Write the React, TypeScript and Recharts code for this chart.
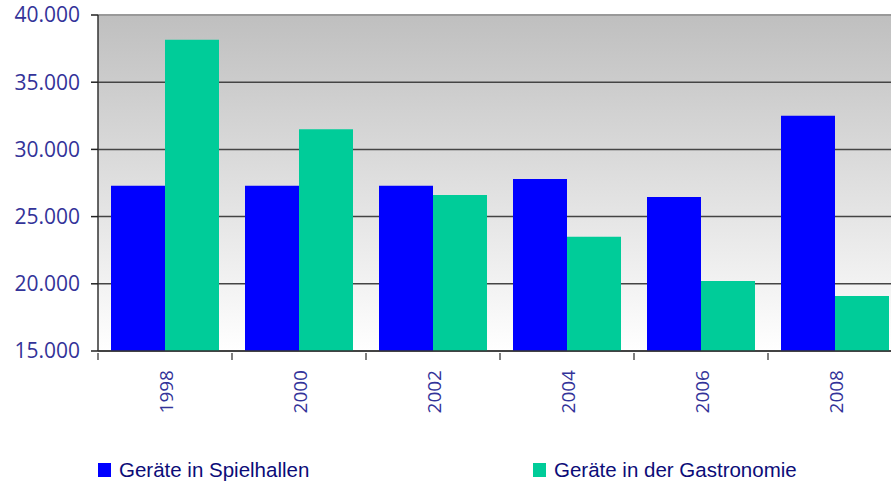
import { BarChart, Bar, XAxis, YAxis, CartesianGrid, Legend, ReferenceLine } from "recharts";

const years = ["1998", "2000", "2002", "2004", "2006", "2008"];
const spielhallen = [27300, 27300, 27300, 27800, 26450, 32500];
const gastronomie = [38150, 31500, 26600, 23500, 20200, 19100];
const yTicks = [15000, 20000, 25000, 30000, 35000, 40000];

const seriesNames = ["Geräte in Spielhallen", "Geräte in der Gastronomie"];
const BLUE = "#0000ff";
const GREEN = "#00cc99";

const data = years.map((year, i) => ({
  year,
  spielhallen: spielhallen[i],
  gastronomie: gastronomie[i],
}));

const fmt = (v: number) => `${v / 1000}.000`;

function YearTick(props: any) {
  const { x, y, payload } = props;
  const half = payload && payload.offset ? payload.offset : 67;
  return (
    <g>
      <line x1={x - half} x2={x - half} y1={y - 7} y2={y} stroke="#555" strokeWidth={1.5} />
      <text
        x={x + 1}
        y={y + 10}
        transform={`rotate(-90, ${x + 1}, ${y + 10})`}
        textAnchor="end"
        dominantBaseline="central"
        fill="#333399"
        fontSize={19}
        fontFamily="'Open Sans', sans-serif"
      >
        {payload.value}
      </text>
    </g>
  );
}

function LegendBox() {
  const items = [
    { name: seriesNames[0], color: BLUE, left: 98 },
    { name: seriesNames[1], color: GREEN, left: 533 },
  ];
  return (
    <div style={{ position: "relative", height: 40 }}>
      {items.map((it) => (
        <div
          key={it.name}
          style={{
            position: "absolute",
            left: it.left,
            top: 17,
            height: 22,
            display: "flex",
            alignItems: "center",
            fontFamily: "'Liberation Sans', sans-serif",
            fontSize: 20.5,
            color: "#0c0c78",
            whiteSpace: "nowrap",
          }}
        >
          <span style={{ display: "inline-block", width: 13, height: 14, background: it.color, marginRight: 8 }} />
          {it.name}
        </div>
      ))}
    </div>
  );
}

export default function App() {
  return (
    <div style={{ position: "absolute", left: 0, top: 0, width: 891, height: 482, overflow: "hidden", background: "#fff" }}>
      <BarChart
        width={902}
        height={482}
        data={data}
        margin={{ top: 15, right: 0, left: 0, bottom: 0 }}
        barCategoryGap={13}
        barGap={0}
      >
        <defs>
          <linearGradient id="plotBg" x1="0" y1="0" x2="0" y2="1">
            <stop offset="0%" stopColor="#bfbfbf" />
            <stop offset="100%" stopColor="#ffffff" />
          </linearGradient>
        </defs>
        <CartesianGrid vertical={false} stroke="#444" strokeWidth={1.5} fill="url(#plotBg)" />
        <ReferenceLine y={40000} stroke="#999" strokeWidth={2} />
        <XAxis
          dataKey="year"
          height={91}
          tick={<YearTick />}
          tickLine={false}
          tickSize={7}
          axisLine={{ stroke: "#333", strokeWidth: 1.5 }}
          interval={0}
        />
        <YAxis
          width={98}
          domain={[15000, 40000]}
          ticks={yTicks}
          tickFormatter={fmt}
          tickSize={7}
          tickMargin={11}
          tickLine={{ stroke: "#222", strokeWidth: 1.5 }}
          axisLine={{ stroke: "#333", strokeWidth: 1.5 }}
          tick={{ fill: "#333399", fontSize: 21, fontFamily: "'Open Sans', sans-serif" }}
          allowDataOverflow
        />
        <Legend verticalAlign="bottom" height={40} content={<LegendBox />} />
        <Bar dataKey="spielhallen" name={seriesNames[0]} fill={BLUE} isAnimationActive={false} />
        <Bar dataKey="gastronomie" name={seriesNames[1]} fill={GREEN} isAnimationActive={false} />
      </BarChart>
    </div>
  );
}
